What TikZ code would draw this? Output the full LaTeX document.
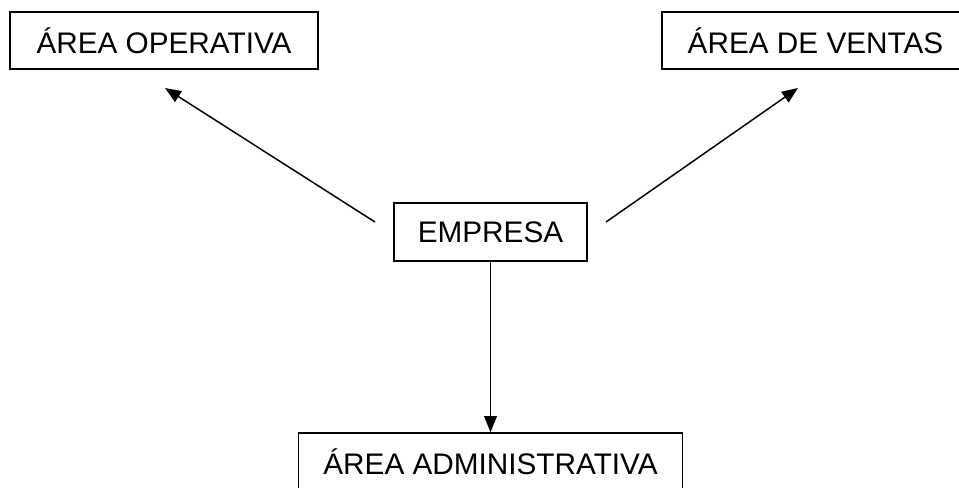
\documentclass[tikz,border=0pt]{standalone}
\usepackage{fontspec}
\setmainfont{Liberation Sans}
\usetikzlibrary{arrows.meta}
\begin{document}
\begin{tikzpicture}[x=0.75pt,y=-0.75pt,
  box/.style={draw=black,line width=1.2pt,inner sep=0pt,align=center,font=\fontsize{22.3}{26}\selectfont},
  conn/.style={line width=1.1pt,-{Triangle[length=12pt,width=9.5pt]}}]
\useasboundingbox (0,0) rectangle (959,487);
\node[box,minimum width=308*0.75pt,minimum height=57*0.75pt] (op) at (164,40.5) {ÁREA OPERATIVA};
\node[box,minimum width=307*0.75pt,minimum height=57*0.75pt] (ve) at (815.5,40.5) {ÁREA DE VENTAS};
\node[box,minimum width=193*0.75pt,minimum height=58*0.75pt] (emp) at (490.5,232) {EMPRESA};
\node[box,minimum width=384*0.75pt,minimum height=57*0.75pt] (adm) at (490.5,461.5) {ÁREA ADMINISTRATIVA};
\coordinate (l0) at (375,222);
\coordinate (l1) at (165,88);
\coordinate (r0) at (606,222);
\coordinate (r1) at (798,88);
\draw[conn] (l0) -- (l1);
\draw[conn] (r0) -- (r1);
\draw[conn] (emp.south) -- (adm.north);
\end{tikzpicture}
\end{document}
